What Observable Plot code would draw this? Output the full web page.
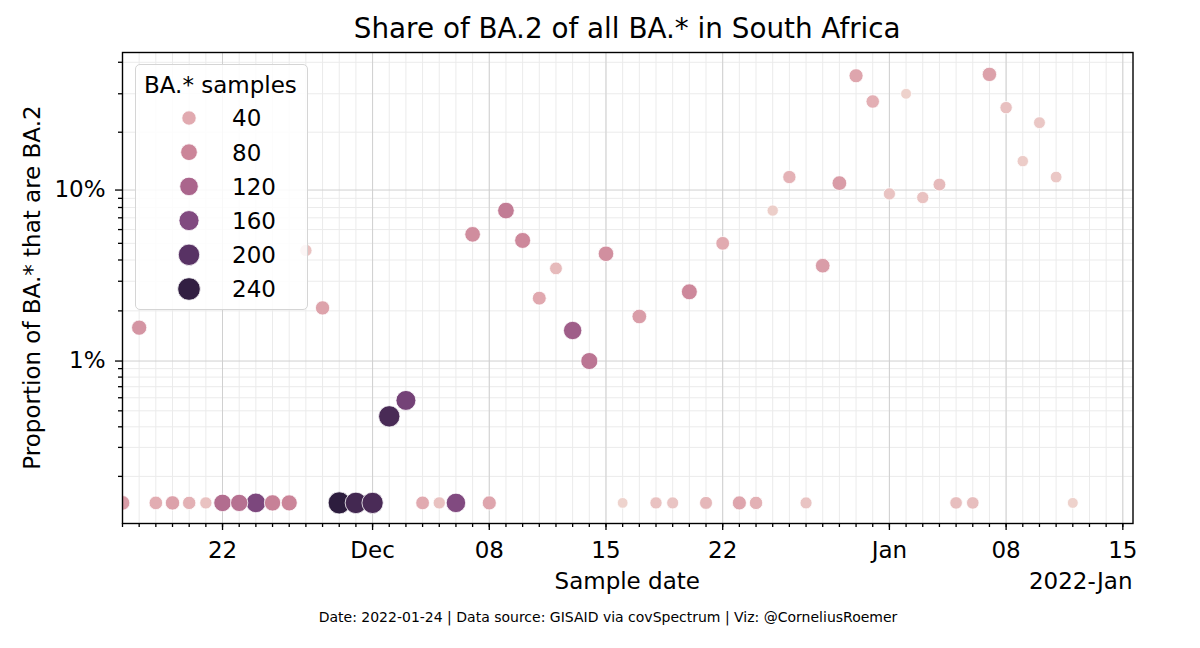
<!DOCTYPE html>
<html><head><meta charset="utf-8">
<script src="https://cdn.jsdelivr.net/npm/d3@7"></script>
<script src="https://cdn.jsdelivr.net/npm/@observablehq/plot@0.6"></script>
<style>
body{margin:0;background:#fff;font-family:"DejaVu Sans",sans-serif;}
#wrap{position:relative;width:1200px;height:648px;overflow:hidden;background:#fff;}
#wrap > svg{position:absolute;left:0;top:0;}
#legend{position:absolute;left:135px;top:64px;width:171px;height:244px;border:1.5px solid #d5d5d5;border-radius:5px;background:rgba(255,255,255,0.85);}
#legend svg{position:absolute;left:0;top:0;}
</style></head><body><div id="wrap"></div>
<script>
// ---- data ----
const dates = ["2021-11-16","2021-11-17","2021-11-18","2021-11-19","2021-11-20","2021-11-21","2021-11-22","2021-11-23","2021-11-24","2021-11-25","2021-11-26","2021-11-27","2021-11-28","2021-11-29","2021-11-30","2021-12-01","2021-12-02","2021-12-03","2021-12-04","2021-12-05","2021-12-06","2021-12-07","2021-12-08","2021-12-09","2021-12-10","2021-12-11","2021-12-12","2021-12-13","2021-12-14","2021-12-15","2021-12-16","2021-12-17","2021-12-18","2021-12-19","2021-12-20","2021-12-21","2021-12-22","2021-12-23","2021-12-24","2021-12-25","2021-12-26","2021-12-27","2021-12-28","2021-12-29","2021-12-30","2021-12-31","2022-01-01","2022-01-02","2022-01-03","2022-01-04","2022-01-05","2022-01-06","2022-01-07","2022-01-08","2022-01-09","2022-01-10","2022-01-11","2022-01-12"];
const ba2Counts = [0,1,0,0,0,0,0,0,0,0,0,1,1,0,0,0,1,1,0,0,0,4,0,7,4,1,1,2,1,3,0,1,0,0,2,0,2,0,0,1,4,0,2,6,16,10,2,3,2,3,0,0,18,6,2,4,2,0];
const totalCounts = [55,63,38,50,35,22,110,105,165,85,80,22,48,245,222,215,216,173,40,22,160,71,45,91,77,42,28,131,100,69,9,54,22,20,77,30,40,45,35,13,34,20,54,55,45,36,21,10,22,28,25,25,50,23,14,18,17,10];
const zeroFloor = 0.00138; // where days without BA.2 are drawn
const legendValues = [40, 80, 120, 160, 200, 240];
const colorStops = [9, 40, 80, 120, 160, 200, 245];
const colorRange = ["#eed3cd", "#e1aab0", "#cb8599", "#aa658c", "#814a80", "#583264", "#2d1d3e"];
const yMajorTicks = [0.01, 0.1];
const yMajorLabels = ["1%", "10%"];
const yMinorTicks = [0.002,0.003,0.004,0.005,0.006,0.007,0.008,0.009,0.02,0.03,0.04,0.05,0.06,0.07,0.08,0.09,0.2,0.3,0.4];
const xMajorTicks = ["2021-11-22","2021-12-01","2021-12-08","2021-12-15","2021-12-22","2022-01-01","2022-01-08","2022-01-15"];
const xMajorLabels = ["22","Dec","08","15","22","Jan","08","15"];
const titleText = "Share of BA.2 of all BA.* in South Africa";
const xLabelText = "Sample date";
const xOffsetText = "2022-Jan";
const yLabelText = "Proportion of BA.* that are BA.2";
const legendTitle = "BA.* samples";
const captionText = "Date: 2022-01-24 | Data source: GISAID via covSpectrum | Viz: @CorneliusRoemer";

// ---- build ----
const day = s => new Date(s + "T00:00:00Z");
const logit = p => Math.log10(p / (1 - p));
const data = dates.map((d, i) => ({
  date: day(d), n: totalCounts[i],
  share: ba2Counts[i] === 0 ? zeroFloor : ba2Counts[i] / totalCounts[i]
}));
const xMajor = xMajorTicks.map(day);
const xLabelMap = new Map(xMajor.map((d, i) => [+d, xMajorLabels[i]]));
const xMinor = d3.utcDay.range(day("2021-11-16"), day("2022-01-16"));
const yLabelMap = new Map(yMajorTicks.map((t, i) => [logit(t), yMajorLabels[i]]));

const W = 1200, H = 648, ML = 122, MR = 67.5, MT = 52, MB = 125;
const font = "DejaVu Sans";

const plot = Plot.plot({
  width: W, height: H,
  marginLeft: ML, marginRight: MR, marginTop: MT, marginBottom: MB,
  style: {fontFamily: font, fontSize: "23px", color: "#000", background: "transparent", overflow: "visible"},
  x: {type: "utc", domain: [day("2021-11-16"), new Date("2022-01-15T14:40:00Z")]},
  y: {type: "linear", domain: [-2.985, -0.1166]},
  r: {type: "sqrt", domain: [0, 245], range: [4, 11.1]},
  color: {type: "linear", domain: colorStops, range: colorRange},
  marks: [
    Plot.gridX(xMinor, {stroke: "#ebebeb", strokeOpacity: 1, strokeWidth: 1}),
    Plot.gridY(yMinorTicks.map(logit), {stroke: "#ebebeb", strokeOpacity: 1, strokeWidth: 1}),
    Plot.gridX(xMajor, {stroke: "#d0d0d0", strokeOpacity: 1, strokeWidth: 1}),
    Plot.gridY(yMajorTicks.map(logit), {stroke: "#d0d0d0", strokeOpacity: 1, strokeWidth: 1}),
    Plot.dot(data, {x: "date", y: d => logit(d.share), r: "n", fill: "n", stroke: "white", strokeWidth: 0.8, clip: true}),
    Plot.axisX({ticks: xMinor, tickSize: 4, strokeWidth: 1.3, tickFormat: () => "", label: null}),
    Plot.axisX({ticks: xMajor, tickSize: 7, tickPadding: 11, strokeWidth: 1.3, tickFormat: d => xLabelMap.get(+d), label: null, fontSize: 23}),
    Plot.axisY({ticks: yMinorTicks.map(logit), tickSize: 4, strokeWidth: 1.3, tickFormat: () => "", label: null}),
    Plot.axisY({ticks: yMajorTicks.map(logit), tickSize: 7, tickPadding: 10, strokeWidth: 1.3, tickFormat: v => yLabelMap.get(v), label: null, fontSize: 23}),
    Plot.frame({stroke: "#000", strokeWidth: 1.4})
  ]
});
const wrap = document.getElementById("wrap");
wrap.appendChild(plot);

// ---- text overlay ----
const over = d3.select(wrap).append("svg").attr("width", W).attr("height", H)
  .style("position", "absolute").style("left", 0).style("top", 0).style("pointer-events", "none")
  .style("font-family", font);
const cx = (ML + (W - MR)) / 2;
over.append("text").attr("x", cx).attr("y", 37.5).attr("text-anchor", "middle").attr("font-size", 27.8).text(titleText);
over.append("text").attr("x", cx).attr("y", 589).attr("text-anchor", "middle").attr("font-size", 23).text(xLabelText);
over.append("text").attr("x", W - MR).attr("y", 589).attr("text-anchor", "end").attr("font-size", 23).text(xOffsetText);
over.append("text").attr("transform", `translate(40,${(MT + H - MB) / 2}) rotate(-90)`).attr("text-anchor", "middle").attr("font-size", 23).text(yLabelText);
over.append("text").attr("x", 608).attr("y", 622).attr("text-anchor", "middle").attr("font-size", 14).text(captionText);

// ---- legend (uses the chart's own scales) ----
const colorScale = plot.scale("color");
const rScale = plot.scale("r");
const leg = d3.select(wrap).append("div").attr("id", "legend");
const lsvg = leg.append("svg").attr("width", 171).attr("height", 244).style("font-family", font);
lsvg.append("text").attr("x", 8).attr("y", 28).attr("font-size", 23).text(legendTitle);
legendValues.forEach((v, i) => {
  const y = 53 + i * 34.2;
  lsvg.append("circle").attr("cx", 53).attr("cy", y).attr("r", rScale.apply(v) + 0.3)
    .attr("fill", colorScale.apply(v)).attr("stroke", "white").attr("stroke-width", 0.8);
  lsvg.append("text").attr("x", 96).attr("y", y + 8.3).attr("font-size", 23).text(String(v));
});
</script>
</body></html>
